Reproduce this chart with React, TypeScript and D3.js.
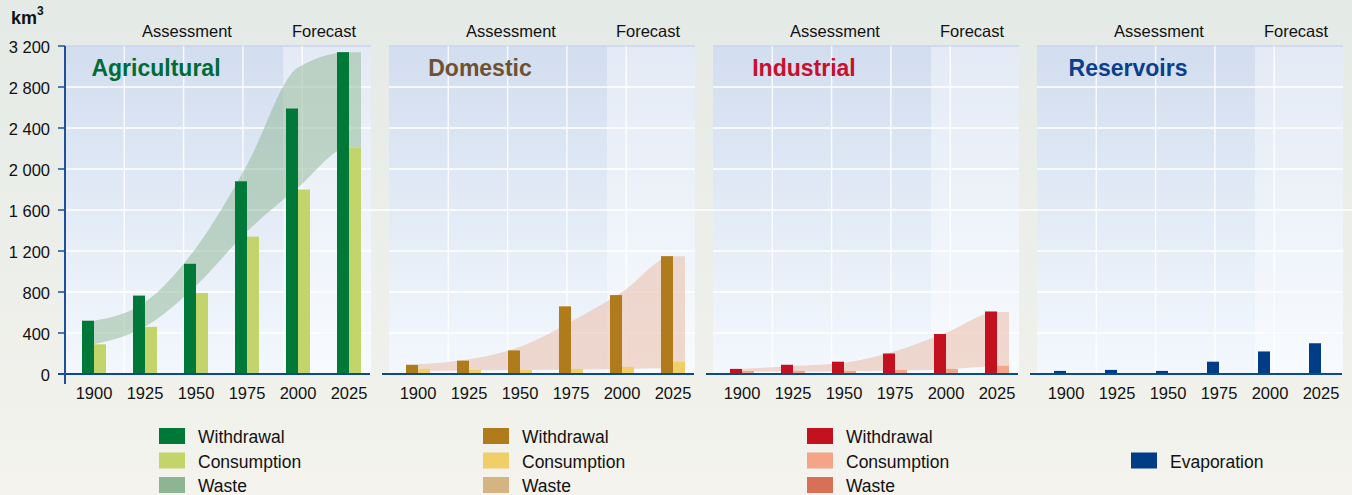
import React from 'react';
import { scaleLinear, scalePoint, area, curveMonotoneX } from 'd3';

const years = ['1900', '1925', '1950', '1975', '2000', '2025'];
const yTicks = [0, 400, 800, 1200, 1600, 2000, 2400, 2800, 3200];
const yTickLabels = ['0', '400', '800', '1 200', '1 600', '2 000', '2 400', '2 800', '3 200'];

// km3 per year
const agriWithdrawal = [520, 765, 1075, 1880, 2590, 3140];
const agriConsumption = [290, 460, 790, 1340, 1800, 2210];
const agriWasteTop = [520, 700, 1230, 2040, 2990, 3140];
const agriWasteBase = [290, 460, 860, 1390, 1820, 2210];

const domWithdrawal = [90, 130, 230, 660, 770, 1150];
const domConsumption = [50, 40, 40, 50, 70, 120];
const domWasteTop = [95, 145, 265, 510, 800, 1150];
const domWasteBase = [30, 35, 40, 45, 50, 55];

const indWithdrawal = [50, 90, 120, 200, 390, 610];
const indConsumption = [30, 30, 30, 40, 50, 80];
const indWasteTop = [50, 78, 110, 222, 403, 605];
const indWasteBase = [25, 25, 28, 35, 45, 75];

const resEvaporation = [30, 40, 30, 120, 220, 300];

const legendLabels = ['Withdrawal', 'Consumption', 'Waste'];

const panels = [
  {
    title: 'Agricultural', titleColor: '#006b38',
    withdrawal: agriWithdrawal, consumption: agriConsumption,
    wasteTop: agriWasteTop, wasteBase: agriWasteBase,
    colors: ['#007838', '#c3d56a', '#8db592'], wasteFill: '#8db592', wasteOpacity: 0.5,
    legend: legendLabels
  },
  {
    title: 'Domestic', titleColor: '#6e5132',
    withdrawal: domWithdrawal, consumption: domConsumption,
    wasteTop: domWasteTop, wasteBase: domWasteBase,
    colors: ['#b07b1b', '#f0ce68', '#d4b483'], wasteFill: '#eabca8', wasteOpacity: 0.55,
    legend: legendLabels
  },
  {
    title: 'Industrial', titleColor: '#c8102e',
    withdrawal: indWithdrawal, consumption: indConsumption,
    wasteTop: indWasteTop, wasteBase: indWasteBase,
    colors: ['#c41120', '#f4a487', '#d87055'], wasteFill: '#eabca8', wasteOpacity: 0.55,
    legend: legendLabels
  },
  {
    title: 'Reservoirs', titleColor: '#0b3f8c',
    withdrawal: resEvaporation, consumption: null,
    wasteTop: null, wasteBase: null,
    colors: ['#003d86'], wasteFill: '', wasteOpacity: 0,
    legend: ['Evaporation']
  }
];

const W = 1352;
const H = 495;
const left = 65;
const panelStep = 324;
const panelW = 306;
const forecastAt = 218;
const top = 46;
const base = 374;
const barW = 12;
const gridStep = 59.3;
const font = '"Liberation Sans", Arial, Helvetica, sans-serif';

const App = () => {
  const y = scaleLinear().domain([0, 3200]).range([base, top]);
  const x = scalePoint<string>().domain(years).range([29, 284]);

  const band = area<{ x: number; t: number; b: number }>()
    .x(d => d.x)
    .y0(d => y(d.b))
    .y1(d => y(d.t))
    .curve(curveMonotoneX);

  return (
    <svg width={W} height={H} style={{ position: 'absolute', left: 0, top: 0, fontFamily: font }}>
      <defs>
        <linearGradient id="page" x1="0" y1="0" x2="0" y2="1">
          <stop offset="0" stopColor="#e4eae6" />
          <stop offset="1" stopColor="#f4f3ed" />
        </linearGradient>
        <linearGradient id="plot" x1="0" y1="0" x2="0" y2="1">
          <stop offset="0" stopColor="#d2ddef" />
          <stop offset="1" stopColor="#f3f8fd" />
        </linearGradient>
      </defs>
      <rect width={W} height={H} fill="url(#page)" />

      {/* stray 1 600 line running through the gaps */}
      <line x1={left} x2={W} y1={y(1600)} y2={y(1600)} stroke="#fff" strokeWidth={1.5} />

      <text x={11} y={24} fontSize={18} fontWeight="bold" fill="#111">
        km<tspan fontSize={12} dy={-9}>3</tspan>
      </text>

      {panels.map((p, pi) => {
        const x0 = left + panelStep * pi;
        const pts = p.wasteTop
          ? years.map((yr, i) => ({ x: x(yr)!, t: p.wasteTop![i], b: p.wasteBase![i] }))
          : [];
        if (pts.length) {
          const last = pts[pts.length - 1];
          pts.push({ x: last.x + barW, t: last.t, b: last.b });
        }
        return (
          <g key={p.title}>
            <g transform={`translate(${x0},0)`}>
              <rect x={0} y={top} width={panelW} height={base - top} fill="url(#plot)" />
              <rect x={forecastAt} y={top} width={panelW - forecastAt} height={base - top} fill="#fff" opacity={0.4} />
              {yTicks.slice(1).map(t => (
                <line key={t} x1={0} x2={panelW} y1={y(t)} y2={y(t)}
                  stroke={t === 3200 ? '#cbd3ee' : '#fff'} strokeWidth={1.5} />
              ))}
              {[1, 2, 3, 4].map(k => (
                <line key={k} x1={k * gridStep} x2={k * gridStep} y1={top} y2={base}
                  stroke="#fff" strokeWidth={1.5} opacity={0.85} />
              ))}
              <text x={122} y={37} fontSize={16.5} textAnchor="middle" fill="#111">Assessment</text>
              <text x={259} y={37} fontSize={16.5} textAnchor="middle" fill="#111">Forecast</text>
              <text x={91} y={76} fontSize={23} fontWeight="bold" textAnchor="middle" fill={p.titleColor}>
                {p.title}
              </text>

              {pts.length > 0 && (
                <path d={band(pts) || ''} fill={p.wasteFill} opacity={p.wasteOpacity} />
              )}

              {years.map((yr, i) => (
                <rect key={'w' + yr} x={x(yr)! - barW} y={y(p.withdrawal[i])} width={barW}
                  height={base - y(p.withdrawal[i])} fill={p.colors[0]} />
              ))}
              {p.consumption && years.map((yr, i) => (
                <rect key={'c' + yr} x={x(yr)!} y={y(p.consumption![i])} width={barW}
                  height={base - y(p.consumption![i])} fill={p.colors[1]} />
              ))}

              <line x1={-7} x2={panelW - 1} y1={base} y2={base} stroke="#0d4a8c" strokeWidth={2} />

              {years.map(yr => (
                <text key={'l' + yr} x={x(yr)} y={399} fontSize={16.5} textAnchor="middle" fill="#111">{yr}</text>
              ))}

              {p.legend.map((lab, li) => {
                const row = p.legend.length === 1 ? 1 : li;
                return (
                  <g key={lab} transform={`translate(94,${428 + row * 24.5})`}>
                    <rect width={26} height={16} fill={p.colors[li]} />
                    <text x={39} y={15} fontSize={17.5} fill="#111">{lab}</text>
                  </g>
                );
              })}
            </g>
          </g>
        );
      })}

      {/* y axis */}
      <line x1={left} x2={left} y1={top} y2={384} stroke="#1f4f98" strokeWidth={2} />
      {yTicks.map((t, i) => (
        <g key={t}>
          <line x1={58} x2={left} y1={y(t)} y2={y(t)} stroke="#1f4f98" strokeWidth={1.5} />
          <text x={50} y={y(t) + 6.5} fontSize={16.5} textAnchor="end" fill="#111">{yTickLabels[i]}</text>
        </g>
      ))}
    </svg>
  );
};

export default App;
